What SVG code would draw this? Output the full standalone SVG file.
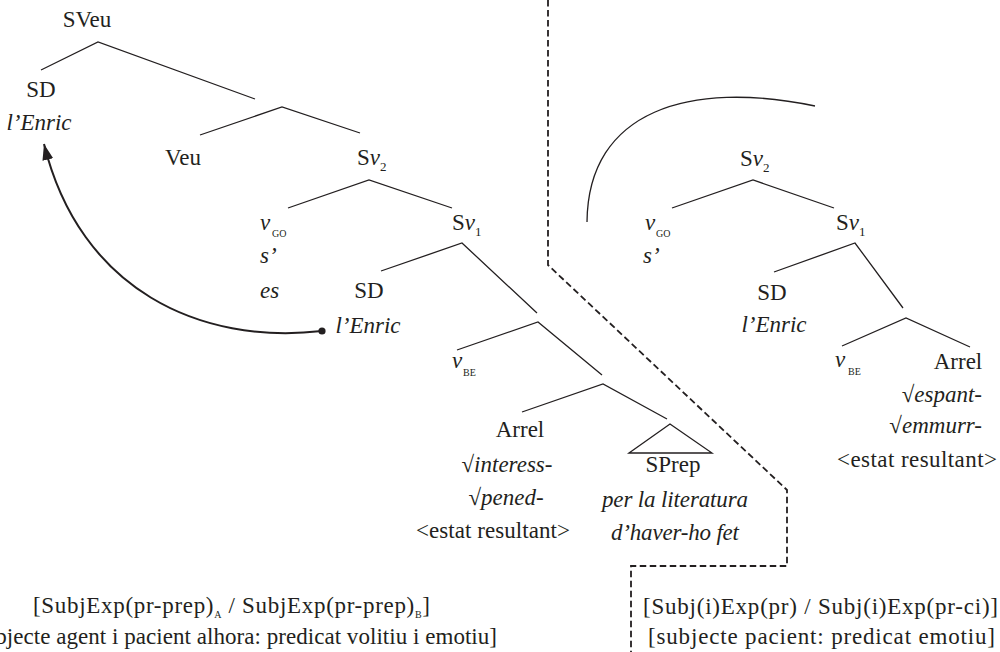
<svg xmlns="http://www.w3.org/2000/svg" width="1000" height="652" viewBox="0 0 1000 652" font-family="'Liberation Serif', 'DejaVu Serif', serif">
<style>
text{font-family:'Liberation Serif','DejaVu Serif',serif;font-size:23px;fill:#231f20}
.i{font-style:italic}
.sub{font-size:10px;font-style:normal}
.num{font-size:13px;font-style:normal}
.m{text-anchor:middle}
.e{text-anchor:end}
.ln{stroke:#231f20;stroke-width:1.3;fill:none}
.dash{stroke:#231f20;stroke-width:1.8;fill:none;stroke-dasharray:6.5 3.5}
</style>
<defs>
<marker id="ah" markerUnits="userSpaceOnUse" markerWidth="18" markerHeight="12" refX="16" refY="5.5" orient="auto">
<path d="M0,0 L16,5.5 L0,11 z" fill="#231f20"/>
</marker>
</defs>
<rect width="1000" height="652" fill="#fff"/>

<g id="connectors">
<path class="ln" d="M41,70 L98,42 L255,99"/>
<path class="ln" d="M200,135 L282,107 L360,133"/>
<path class="ln" d="M288,208 L369,180 L452,208"/>
<path class="ln" d="M381,271 L462,243 L537,313"/>
<path class="ln" d="M457,350 L538,322 L602,375"/>
<path class="ln" d="M522,412 L603,384 L667,419"/>
<path class="ln" d="M672,208 L753,180 L834,208"/>
<path class="ln" d="M774,272 L855,243 L903,308"/>
<path class="ln" d="M842,346 L906,318 L970,347"/>
<path d="M322,331 C200,345 80,290 44,144" stroke="#231f20" stroke-width="2" fill="none" marker-end="url(#ah)"/>
<circle cx="322" cy="331" r="3.6" fill="#231f20"/>
<path class="ln" d="M587,222 C588,110 690,80 815,106"/>
<path class="dash" d="M548,0 V265 L787,490 V566 H631 V652"/>
</g>

<g id="n-sveu"><text class="m" x="87" y="27">SVeu</text></g>
<g id="n-sd-top"><text class="m" x="41" y="97">SD</text><text class="i m" x="39" y="130">l’Enric</text></g>
<g id="n-veu"><text class="m" x="183" y="165">Veu</text></g>
<g id="n-sv2-left"><text x="357" y="165">S<tspan class="i">v</tspan><tspan class="num" dy="6">2</tspan></text></g>
<g id="n-vgo-left"><text class="i" x="260" y="230">v<tspan class="sub" x="272" y="237">GO</tspan></text><text class="i" x="260" y="263">s’</text><text class="i" x="260" y="298">es</text></g>
<g id="n-sv1-left"><text x="452" y="230">S<tspan class="i">v</tspan><tspan class="num" dy="6">1</tspan></text></g>
<g id="n-sd-left"><text class="m" x="369" y="298">SD</text><text class="i m" x="368" y="333">l’Enric</text></g>
<g id="n-vbe-left"><text class="i" x="452" y="368">v<tspan class="sub" x="463" y="376">BE</tspan></text></g>
<g id="n-arrel-left"><text class="m" x="520" y="437">Arrel</text><text class="i m" x="507" y="472">√interess-</text><text class="i m" x="506" y="505">√pened-</text><text class="m" x="493" y="538" textLength="154">&lt;estat resultant&gt;</text></g>
<g id="n-sprep"><path class="ln" d="M629,453 L670,424 L712,453 Z"/><text class="m" x="673" y="472">SPrep</text><text class="i m" x="675" y="507" textLength="146">per la literatura</text><text class="i m" x="675" y="540" textLength="128">d’haver-ho fet</text></g>

<g id="n-sv2-right"><text x="740" y="166">S<tspan class="i">v</tspan><tspan class="num" dy="6">2</tspan></text></g>
<g id="n-vgo-right"><text class="i" x="645" y="230">v<tspan class="sub" x="656" y="237">GO</tspan></text><text class="i" x="643" y="263">s’</text></g>
<g id="n-sv1-right"><text x="836" y="230">S<tspan class="i">v</tspan><tspan class="num" dy="6">1</tspan></text></g>
<g id="n-sd-right"><text class="m" x="772" y="300">SD</text><text class="i m" x="774" y="332">l’Enric</text></g>
<g id="n-vbe-right"><text class="i" x="835" y="367">v<tspan class="sub" x="848" y="375">BE</tspan></text></g>
<g id="n-arrel-right"><text class="m" x="958" y="369">Arrel</text><text class="i e" x="982" y="402">√espant-</text><text class="i e" x="982" y="433">√emmurr-</text><text x="837" y="467" textLength="160">&lt;estat resultant&gt;</text></g>

<g id="caption-left"><text x="33" y="613" textLength="397">[SubjExp(pr-prep)<tspan class="sub" dy="5">A</tspan><tspan dy="-5"> / SubjExp(pr-prep)</tspan><tspan class="sub" dy="5">B</tspan><tspan dy="-5">]</tspan></text><text x="-33" y="644" textLength="530">[subjecte agent i pacient alhora: predicat volitiu i emotiu]</text></g>
<g id="caption-right"><text x="643" y="614" textLength="355">[Subj(i)Exp(pr) / Subj(i)Exp(pr-ci)]</text><text x="648" y="644" textLength="347">[subjecte pacient: predicat emotiu]</text></g>
</svg>
